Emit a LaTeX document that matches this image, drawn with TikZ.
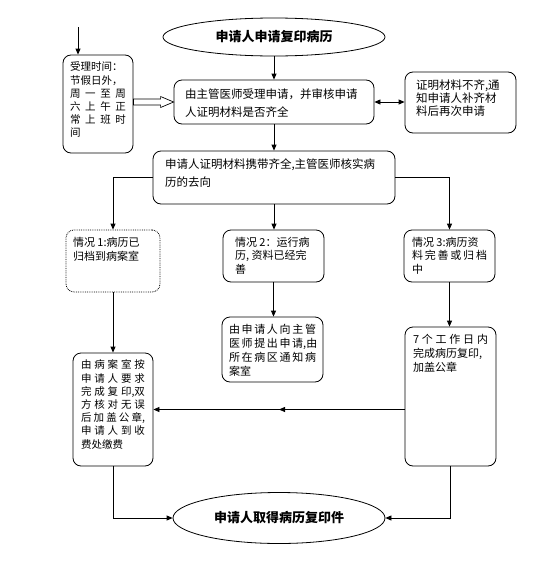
\documentclass[tikz,border=0pt]{standalone}
\usepackage{fontspec}
\newfontfamily\cjk{Noto Sans CJK SC}
\usetikzlibrary{shapes.geometric,arrows.meta,decorations.markings,calc}
\newcommand\jl[1]{\makebox[\linewidth][s]{#1}}
\newcommand\pb[3]{\parbox[c][#2][t]{#1}{#3}}
\begin{document}
\begin{tikzpicture}[x=1pt,y=-1pt,
  >={Triangle[length=6pt,width=5pt]},
  line width=0.8pt,
  rbox/.style={draw, rounded corners=8pt, font=\cjk\fontsize{10.5}{13.2}\selectfont},
  oval/.style={draw, ellipse, inner sep=0pt, font=\cjk\bfseries\fontsize{13}{15}\selectfont},
  midarrow/.style={decoration={markings,mark=at position 0.5 with {\arrow{>}}},postaction={decorate}}
]
\useasboundingbox (0,0) rectangle (550,565);

\node[oval, minimum width=222pt, minimum height=38pt] (title) at (274,37) {申请人申请复印病历};

\node[rbox, inner xsep=7pt, inner ysep=7pt] (time) at (98,104)
  {\pb{56pt}{84pt}{受理时间：\\节假日外，\\\jl{周 一 至 周}\\\jl{六 上 午 正}\\\jl{常 上 班 时}\\间}};

\node[rbox, inner xsep=11pt, inner ysep=9pt, font=\cjk\fontsize{11.5}{18}\selectfont] (box2) at (274,102)
  {\pb{178pt}{26pt}{\jl{由主管医师受理申请，并审核申请}\\人证明材料是否齐全}};

\node[rbox, inner xsep=11pt, inner ysep=8pt, font=\cjk\fontsize{11.5}{13}\selectfont] (rb) at (460.5,102.5)
  {\pb{89pt}{45pt}{证明材料不齐,通\\知申请人补齐材\\料后再次申请}};

\node[rbox, inner xsep=12pt, inner ysep=8pt, font=\cjk\fontsize{11.5}{18}\selectfont] (box3) at (274,177.5)
  {\pb{218pt}{37pt}{\jl{申请人证明材料携带齐全,主管医师核实病}\\历的去向}};

\node[rbox, densely dotted, inner xsep=7pt, inner ysep=7pt, font=\cjk\fontsize{11}{14}\selectfont] (case1) at (113,261)
  {\pb{80pt}{48pt}{情况 1:病历已\\归档到病案室}};

\node[rbox, inner xsep=12pt, inner ysep=7pt, font=\cjk\fontsize{11}{13.5}\selectfont] (case2) at (273.5,256)
  {\pb{77pt}{38pt}{情况 2：运行病\\历, 资料已经完\\善}};

\node[rbox, inner xsep=8pt, inner ysep=7pt, font=\cjk\fontsize{11}{13.5}\selectfont] (case3) at (449.5,256)
  {\pb{75pt}{38pt}{情况 3:病历资\\\jl{料 完 善 或 归 档}\\中}};

\node[rbox, inner xsep=7pt, inner ysep=7pt, font=\cjk\fontsize{11}{14}\selectfont] (box4) at (272.5,349.5)
  {\pb{87pt}{51pt}{\jl{由 申 请 人 向 主 管}\\\jl{医 师 提 出 申 请,由}\\\jl{所 在 病 区 通 知 病}\\案室}};

\node[rbox, inner xsep=8pt, inner ysep=7pt, font=\cjk\fontsize{11}{14}\selectfont] (box7) at (450.5,396.5)
  {\pb{75pt}{125pt}{\jl{7 个 工 作 日 内}\\完成病历复印,\\加盖公章}};

\node[rbox, inner xsep=8pt, inner ysep=7pt] (lbox) at (113,409.5)
  {\pb{64pt}{99pt}{\jl{由 病 案 室 按}\\\jl{申 请 人 要 求}\\\jl{完 成 复 印,双}\\\jl{方 核 对 无 误}\\\jl{后 加 盖 公 章,}\\\jl{申 请 人 到 收}\\费处缴费}};

\node[oval, minimum width=212pt, minimum height=51pt] (final) at (279,518) {申请人取得病历复印件};

\coordinate (start) at (78,27);

\draw[->] (start) -- (start |- time.north);
\draw[->] (title.south) -- (box2.north);
\draw[<->] (box2.east) -- (box2.east -| rb.west);
\coordinate (ha) at (time.east |- box2.west);
\coordinate (hb) at (box2.west);
\draw[line width=0.7pt] ($(ha)+(0,-3)$) -- ($(hb)+(-13,-3)$) -- ($(hb)+(-13,-5.5)$) -- (hb)
  -- ($(hb)+(-13,5.5)$) -- ($(hb)+(-13,3)$) -- ($(ha)+(0,3)$) -- cycle;
\draw[->] (box2.south) -- (box3.north);
\draw[->] (box3.west) -| (case1.north);
\draw[->] (box3.south) -- (box3.south |- case2.north);
\draw[->] (box3.east) -| (case3.north);
\draw[->] (case1.south) -- (lbox.north);
\draw[->] (case2.south) -- (case2.south |- box4.north);
\draw[->] (case3.south) -- (case3.south |- box7.north);
\draw[->, midarrow] (lbox.east -| box7.west) -- (lbox.east);
\draw[->] (lbox.south) |- (final.west);
\draw[->] (box7.south) |- (final.east);
\end{tikzpicture}
\end{document}
